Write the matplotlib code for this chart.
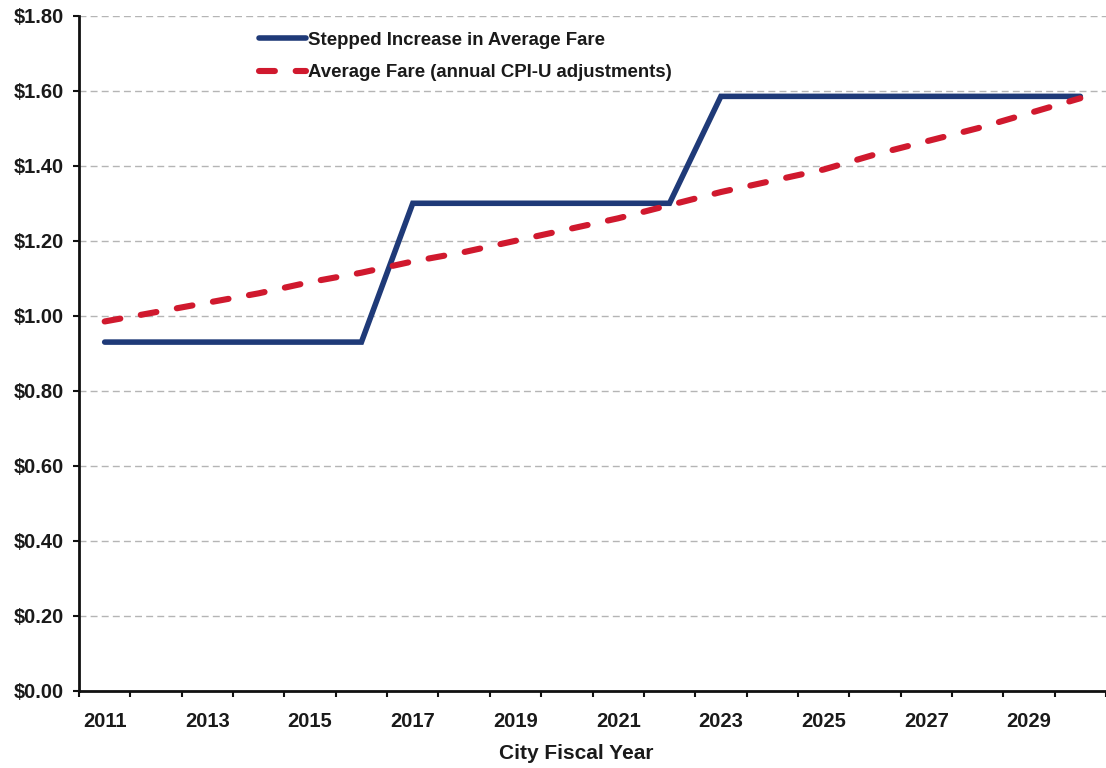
import matplotlib
matplotlib.use("Agg")
import matplotlib.pyplot as plt
from matplotlib.ticker import FixedLocator, FuncFormatter

# Fiscal years and fare series
years = list(range(2011, 2031))
stepped_fare = [0.93, 0.93, 0.93, 0.93, 0.93, 0.93,
                1.30, 1.30, 1.30, 1.30, 1.30, 1.30,
                1.585, 1.585, 1.585, 1.585, 1.585, 1.585, 1.585, 1.585]
cpi_fare = [0.985, 1.01, 1.035, 1.06, 1.09, 1.115, 1.145, 1.17, 1.20, 1.23,
            1.26, 1.295, 1.33, 1.36, 1.39, 1.43, 1.465, 1.50, 1.54, 1.58]
y_ticks = [0.0, 0.2, 0.4, 0.6, 0.8, 1.0, 1.2, 1.4, 1.6, 1.8]
label_years = years[::2]

series_names = ["Stepped Increase in Average Fare",
                "Average Fare (annual CPI-U adjustments)"]

plt.rcParams["font.family"] = ["Liberation Sans", "DejaVu Sans"]
plt.rcParams["font.weight"] = "bold"

W, H = 1106, 768
fig = plt.figure(figsize=(W / 100, H / 100), dpi=100)
ax = fig.add_axes([79 / W, (H - 691) / H, 1027 / W, (691 - 15.7) / H])

x = list(range(len(years)))
navy = "#1f3a78"
red = "#d0192e"
ax.plot(x, stepped_fare, color=navy, lw=4.0, solid_capstyle="round",
        solid_joinstyle="miter", label=series_names[0], zorder=3)
ax.plot(x, cpi_fare, color=red, lw=4.4, dash_capstyle="round",
        dashes=(2.6, 3.4), label=series_names[1], zorder=4)

ax.set_xlim(-0.5, len(years) - 0.5)
ax.set_ylim(0, 1.8)

# y axis
ax.set_yticks(y_ticks)
ax.yaxis.set_major_formatter(FuncFormatter(lambda v, p: f"${v:.2f}"))
ax.tick_params(axis="y", which="major", direction="out", length=4, width=1.5,
               pad=7, labelsize=14.5, labelcolor="#1a1a1a", color="#111111")
ax.grid(axis="y", color="#b5b5b5", lw=1.0, ls=(0, (5, 3)), zorder=0)

# x axis: boundary tick marks, labels on every other year
ax.xaxis.set_major_locator(FixedLocator([years.index(y) for y in label_years]))
ax.set_xticklabels([str(y) for y in label_years])
ax.xaxis.set_minor_locator(FixedLocator([i - 0.5 for i in range(len(years) + 1)]))
ax.tick_params(axis="x", which="major", length=0, pad=15, labelsize=14.5,
               labelcolor="#1a1a1a")
ax.tick_params(axis="x", which="minor", direction="out", length=4, width=1.5,
               color="#111111")

for side in ("top", "right"):
    ax.spines[side].set_visible(False)
for side in ("left", "bottom"):
    ax.spines[side].set_linewidth(2.0)
    ax.spines[side].set_color("#111111")

ax.set_xlabel("City Fiscal Year", fontsize=15, fontweight="bold", color="#1a1a1a")
ax.xaxis.set_label_coords((576 - 79) / 1027, -0.078)

leg = ax.legend(loc="upper left", bbox_to_anchor=((243 - 79) / 1027, 1.0),
                frameon=False, fontsize=13.4, handlelength=2.55, handletextpad=0.08,
                labelspacing=0.85, borderaxespad=0.45)
for t in leg.get_texts():
    t.set_color("#1a1a1a")

fig.savefig("out.png", dpi=100, facecolor="white")
